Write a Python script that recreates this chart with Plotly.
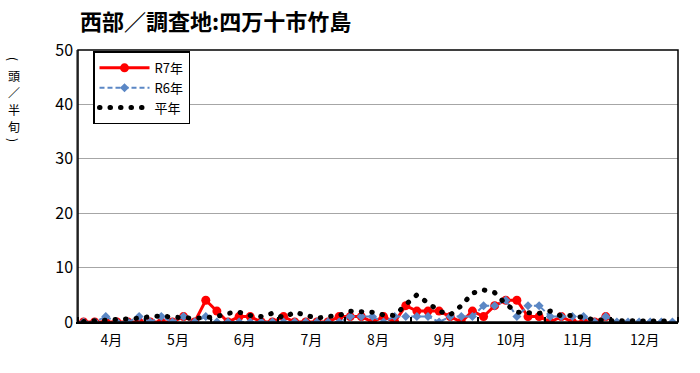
import plotly.graph_objects as go

months = ["4月", "5月", "6月", "7月", "8月", "9月", "10月", "11月", "12月"]
per_month = 6

r7 = [0, 0, 0, 0, 0, 0, 0, 0, 0, 1, 0, 4,
      2, 0, 1, 1, 0, 0, 1, 0, 0, 0, 0, 1,
      1, 1, 0, 1, 0, 3, 2, 2, 2, 1, 0, 2,
      1, 3, 4, 4, 1, 1, 0, 1, 0, 0, 0, 1]
r6 = [0, 0, 1, 0, 0, 1, 0, 1, 0, 1, 0, 1,
      0, 0, 0, 0, 0, 0, 0, 0, 0, 0, 0, 0,
      1, 1, 1, 0, 1, 1, 1, 1, 0, 1, 1, 1,
      3, 3, 4, 1, 3, 3, 1, 1, 1, 1, 0, 1,
      0, 0, 0, 0, 0, 0]
avg = [0.1, 0.2, 0.3, 0.3, 0.4, 0.7, 1.0, 1.1, 0.9, 0.7, 0.7, 0.8,
       1.0, 1.6, 1.8, 1.2, 1.0, 1.6, 0.8, 1.8, 1.2, 0.7, 1.0, 1.2,
       2.0, 1.8, 1.8, 1.3, 1.2, 3.2, 5.0, 3.5, 2.0, 1.3, 3.0, 5.3,
       5.9, 5.4, 3.3, 1.8, 1.6, 1.6, 2.0, 1.1, 1.2, 0.8, 0.4, 0.3,
       0.2, 0.2, 0.2, 0.2, 0.2, 0.2]
y_ticks = [0, 10, 20, 30, 40, 50]
y_label_chars = ["(", "頭", "／", "半", "旬", ")"]

n = len(months) * per_month
fig = go.Figure()
fig.add_trace(go.Scatter(x=list(range(len(r7))), y=r7, name="R7年", mode="lines+markers",
                         line=dict(color="#FF0000", width=3),
                         marker=dict(symbol="circle", size=9, color="#FF0000")))
fig.add_trace(go.Scatter(x=list(range(len(r6))), y=r6, name="R6年", mode="lines+markers",
                         line=dict(color="#5B87C5", width=2, dash="5px,3px"),
                         marker=dict(symbol="diamond", size=7, color="#5B87C5")))
fig.add_trace(go.Scatter(x=list(range(len(avg))), y=avg, name="平年", mode="lines",
                         line=dict(color="#000000", width=5, dash="0.5px,10px")))

centers = [i * per_month + (per_month - 1) / 2 for i in range(len(months))]
fig.update_layout(
    width=700, height=373,
    margin=dict(l=78, r=22, t=50, b=51, autoexpand=False),
    paper_bgcolor="white", plot_bgcolor="white",
    font=dict(family="Noto Sans CJK JP", color="#000000"),
    title=dict(text="<b>西部／調査地:四万十市竹島</b>", x=80 / 700, xanchor="left",
               y=1 - 22 / 373, yanchor="middle", font=dict(size=22)),
    showlegend=True,
    legend=dict(x=0.025, y=0.995, xanchor="left", yanchor="top",
                bordercolor="#000000", borderwidth=1.5, bgcolor="white",
                font=dict(size=13), tracegroupgap=0, itemwidth=50),
    xaxis=dict(range=[-0.5, n - 0.5], tickmode="array", tickvals=centers, ticktext=months,
               ticks="", showgrid=False, zeroline=False, showline=True, automargin=False,
               linecolor="#000000", linewidth=2, tickfont=dict(size=14),
               ticklabelstandoff=4,
               minor=dict(tickmode="linear", tick0=-0.5, dtick=per_month, ticks="inside",
                          ticklen=5, tickcolor="#000000", tickwidth=1.5, showgrid=False)),
    yaxis=dict(range=[0, 50], tickvals=y_ticks, showgrid=True, gridcolor="#A6A6A6",
               gridwidth=1.2, zeroline=False, showline=True, linecolor="#808080",
               automargin=False, linewidth=1.5, ticks="", tickfont=dict(size=16),
               ticksuffix=" "),
)
fig.add_shape(type="rect", xref="paper", yref="paper", x0=0, x1=1, y0=0, y1=1,
              line=dict(color="#000000", width=1.5), layer="above")
label_y = [59, 75, 92, 109, 126, 140]
for ch, py in zip(y_label_chars, label_y):
    rot = 90 if ch in "()" else 0
    fig.add_annotation(text=ch, xref="paper", yref="paper",
                       x=(14 - 78) / 600, y=1 + (50 - py) / 272,
                       xanchor="center", yanchor="middle", textangle=rot,
                       showarrow=False, font=dict(size=12))

post = """
var s=document.createElement('style');
s.innerHTML='body{margin:0;} .scatterlayer .trace:nth-child(3) .js-line, .legend .traces:nth-child(3) .js-line{stroke-linecap:round;}';
document.head.appendChild(s);
"""
fig.write_html("out.html", post_script=post, config={"displayModeBar": False})
